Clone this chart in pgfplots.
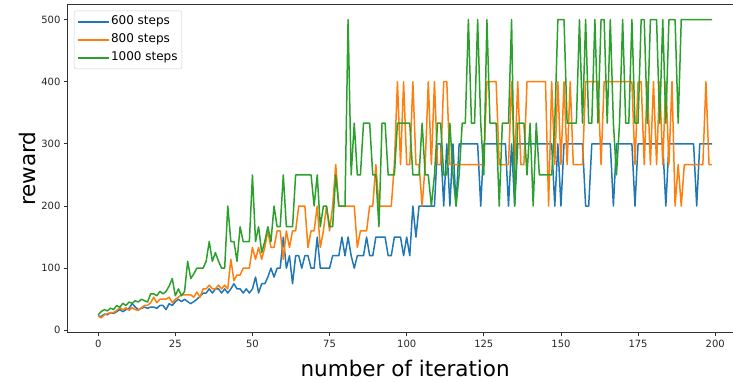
\documentclass[border=0pt]{standalone}
\usepackage{fontspec}
\setmainfont{DejaVu Sans}
\usepackage{pgfplots}
\usepackage{pgfplotstable}
\pgfplotsset{compat=1.18}
\definecolor{tabblue}{HTML}{1F77B4}
\definecolor{taborange}{HTML}{FF7F0E}
\definecolor{tabgreen}{HTML}{2CA02C}
\pgfplotstableread{
x a b c
0 23.1 22.9 25
1 22.2 20 30.3
2 26.1 25 33.3
3 25 26.7 31.25
4 28.6 28.6 35.7
5 27.3 28.6 33.3
6 30 32 40
7 33.3 36.4 37
8 30 33.3 43.5
9 33.3 36.4 40
10 35.3 32 45.5
11 42.9 36.4 43.5
12 37.5 33.3 47.6
13 33.3 32 45.5
14 35.3 36.4 50
15 37.5 40 47.6
16 35.3 40 45.5
17 37.5 44.4 58.8
18 37.5 53.3 58.8
19 35.3 44.4 55.6
20 40 50 62.5
21 40 50 58.8
22 33.3 50 62.5
23 42.9 53.3 71.4
24 40 44.4 83.3
25 46.2 50 55.6
26 50 53.3 66.7
27 46.2 57.1 55.6
28 50 57.1 62.5
29 46.2 57.1 111.1
30 42.9 57.1 83.3
31 46.2 53.3 90.9
32 50 61.5 100
33 54.5 53.3 100
34 60 66.7 100
35 60 66.7 111.1
36 66.7 72.7 142.9
37 60 66.7 111.1
38 66.7 66.7 125
39 66.7 72.7 111.1
40 60 66.7 100
41 66.7 72.7 100
42 60 66.7 200
43 66.7 114.3 142.9
44 75 80 142.9
45 66.7 88.9 111.1
46 66.7 88.9 166.7
47 60 100 142.9
48 66.7 100 142.9
49 60 100 142.9
50 66.7 133.3 250
51 85.7 114.3 142.9
52 60 133.3 166.7
53 75 114.3 125
54 75 133.3 142.9
55 85.7 160 166.7
56 100 133.3 142.9
57 85.7 133.3 200
58 100 160 166.7
59 100 160 166.7
60 150 114.3 250
61 100 160 166.7
62 120 133.3 166.7
63 75 160 166.7
64 120 160 250
65 120 200 250
66 100 200 250
67 120 200 250
68 120 133.3 250
69 100 160 250
70 100 160 200
71 150 200 250
72 100 133.3 166.7
73 100 160 200
74 100 200 200
75 100 160 166.7
76 120 200 166.7
77 120 266.7 250
78 120 200 200
79 150 200 200
80 120 200 200
81 150 200 500
82 120 200 250
83 100 200 333.3
84 120 133.3 250
85 120 160 250
86 120 160 333.3
87 150 160 333.3
88 120 200 333.3
89 120 200 250
90 150 266.7 250
91 150 200 166.7
92 150 200 333.3
93 150 200 333.3
94 120 200 250
95 120 200 250
96 150 266.7 250
97 150 400 333.3
98 150 266.7 333.3
99 120 400 333.3
100 150 266.7 333.3
101 120 266.7 333.3
102 200 400 250
103 150 266.7 250
104 200 266.7 250
105 200 200 333.3
106 200 266.7 250
107 200 400 250
108 200 266.7 200
109 200 400 250
110 300 266.7 333.3
111 300 266.7 333.3
112 200 400 250
113 300 400 250
114 200 266.7 333.3
115 300 266.7 250
116 200 266.7 200
117 300 266.7 250
118 300 266.7 333.3
119 300 266.7 333.3
120 300 266.7 500
121 300 266.7 333.3
122 300 266.7 333.3
123 300 266.7 500
124 200 266.7 333.3
125 300 266.7 250
126 300 400 500
127 300 400 333.3
128 300 400 333.3
129 300 400 333.3
130 300 266.7 200
131 300 266.7 333.3
132 300 266.7 333.3
133 200 266.7 333.3
134 300 400 500
135 200 266.7 200
136 300 400 333.3
137 300 266.7 333.3
138 300 266.7 333.3
139 300 400 250
140 300 400 333.3
141 300 400 200
142 300 400 333.3
143 300 400 250
144 300 400 250
145 300 400 250
146 300 200 250
147 300 400 250
148 200 266.7 333.3
149 300 400 500
150 200 266.7 500
151 300 400 500
152 300 266.7 333.3
153 300 400 333.3
154 300 266.7 333.3
155 300 266.7 333.3
156 300 266.7 500
157 300 266.7 333.3
158 200 400 500
159 200 400 333.3
160 300 400 333.3
161 300 400 500
162 300 400 333.3
163 300 266.7 500
164 300 400 500
165 300 400 333.3
166 300 400 500
167 200 400 333.3
168 300 400 250
169 300 400 333.3
170 300 400 500
171 300 400 333.3
172 300 400 333.3
173 300 400 500
174 200 266.7 333.3
175 300 400 333.3
176 300 400 500
177 300 266.7 500
178 300 400 333.3
179 300 266.7 500
180 300 400 500
181 300 266.7 500
182 300 400 333.3
183 300 266.7 500
184 200 400 333.3
185 300 266.7 500
186 300 400 500
187 300 200 500
188 300 266.7 333.3
189 300 200 500
190 300 266.7 500
191 300 266.7 500
192 300 266.7 500
193 300 266.7 500
194 200 266.7 500
195 300 266.7 500
196 300 266.7 500
197 300 400 500
198 300 266.7 500
199 300 266.7 500
}\data
\begin{document}
\begin{tikzpicture}
\useasboundingbox (-67.5pt,-49.2pt) rectangle (665.5pt,332.8pt);
\begin{axis}[
  at={(0pt,0pt)}, anchor=south west,
  scale only axis, width=675.3pt, height=328.1pt,
  xmin=-9.95, xmax=208.95, ymin=-4, ymax=524,
  xtick={0,25,...,200}, ytick={0,100,...,500},
  tick align=outside, xtick pos=lower, ytick pos=lower,
  major tick length=3.5pt,
  axis line style={black!80, line width=0.8pt},
  tick style={black!80, line width=0.8pt},
  /pgf/number format/assume math mode=true,
  ticklabel style={font=\fontsize{10}{12}\selectfont, text=black!85},
  xlabel={number of iteration}, ylabel={reward},
  label style={font=\fontsize{21.5}{24}\selectfont, text=black},
  xlabel style={at={(axis description cs:0.5,-0.1332)}, anchor=base},
  ylabel style={at={(axis description cs:-0.0475,0.5)}, anchor=base},
  legend cell align=left,
  legend style={at={(axis description cs:0,1)}, anchor=north west,
    xshift=6.5pt, yshift=-6pt, draw=black!20, rounded corners=2pt,
    fill=white, fill opacity=0.8, text opacity=1,
    font=\fontsize{12}{14}\selectfont, inner xsep=3.3pt, inner ysep=4.5pt,
    row sep=5pt,
    nodes={inner sep=1pt, text height=8.5pt, text depth=2.5pt}},
  legend image code/.code={\draw[#1, line width=1.5pt] (0pt,0pt) -- (25pt,0pt); \path (0pt,0pt) -- (31pt,0pt);},
  every axis plot/.append style={line width=1.5pt, line join=round},
]
\addplot[tabblue] table[x=x, y=a] {\data};
\addlegendentry{600 steps}
\addplot[taborange] table[x=x, y=b] {\data};
\addlegendentry{800 steps}
\addplot[tabgreen] table[x=x, y=c] {\data};
\addlegendentry{1000 steps}
\end{axis}
\end{tikzpicture}
\end{document}
